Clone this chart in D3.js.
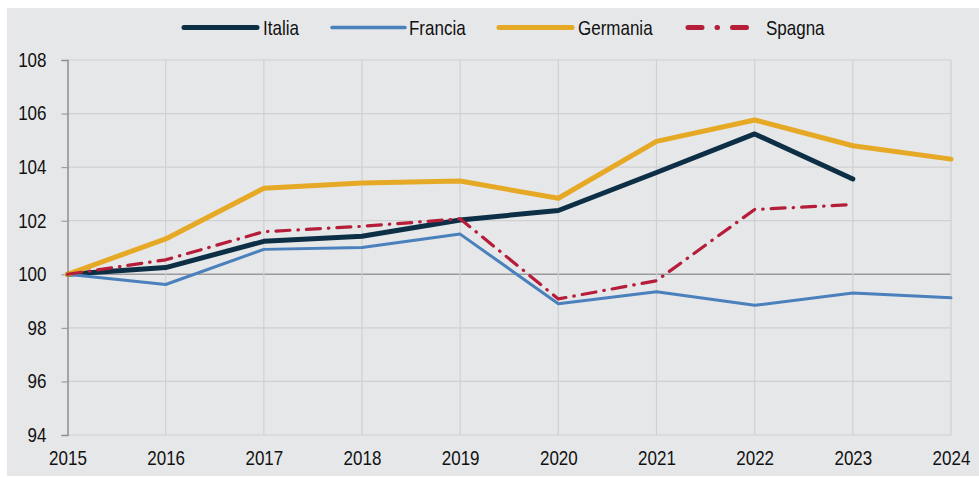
<!DOCTYPE html>
<html>
<head>
<meta charset="utf-8">
<script src="https://cdn.jsdelivr.net/npm/d3@7"></script>
<style>
  body { margin: 0; background: #fff; }
  text { font-family: "Liberation Sans Narrow", "Arial Narrow", "Liberation Sans", Arial, sans-serif; fill: #111; }
</style>
</head>
<body>
<div id="chart"></div>
<script>
const years = [2015, 2016, 2017, 2018, 2019, 2020, 2021, 2022, 2023, 2024];
const italia   = [100, 100.25, 101.23, 101.42, 102.03, 102.38, 103.8, 105.24, 103.56];
const francia  = [100, 99.62, 100.93, 101.0, 101.5, 98.9, 99.35, 98.84, 99.3, 99.12];
const germania = [100, 101.32, 103.21, 103.41, 103.48, 102.84, 104.96, 105.76, 104.8, 104.3];
const spagna   = [100, 100.54, 101.59, 101.79, 102.07, 99.08, 99.76, 102.42, 102.6];
const yTicks = [94, 96, 98, 100, 102, 104, 106, 108];

const series = [
  {name: "Italia", values: italia, color: "#0c2f45", width: 5, dash: null},
  {name: "Francia", values: francia, color: "#4a80bb", width: 3, dash: null},
  {name: "Germania", values: germania, color: "#e6a925", width: 5, dash: null},
  {name: "Spagna", values: spagna, color: "#b51d39", width: 3.2, dash: "14,8,0.5,8"}
];

const width = 979, height = 477;
const margin = {top: 60, right: 28, bottom: 42, left: 67.5};

// the reference uses a narrow face; squeeze the regular one if narrow is missing
const squeeze = (sel, origin) => sel
  .style("font-size", "20px")
  .attr("font-family", null)
  .attr("fill", "#111")
  .style("transform-box", "fill-box")
  .style("transform-origin", origin)
  .style("transform", "scaleX(0.85)");

const svg = d3.select("#chart").append("svg")
  .attr("width", width).attr("height", height);

svg.append("rect")
  .attr("x", 7).attr("y", 8)
  .attr("width", width - 7).attr("height", height - 9)
  .attr("fill", "#e6e7e9");

const x = d3.scaleLinear()
  .domain([2015, 2024])
  .range([margin.left, width - margin.right]);

const y = d3.scaleLinear()
  .domain([94, 108])
  .range([height - margin.bottom, margin.top]);

// grid
const grid = svg.append("g");
grid.selectAll(".gy")
  .data(yTicks)
  .join("line")
    .attr("x1", x(2015)).attr("x2", x(2024))
    .attr("y1", d => y(d)).attr("y2", d => y(d))
    .attr("stroke", d => d === 100 ? "#9a9a9c" : "#cfd0d2")
    .attr("stroke-width", d => d === 100 ? 1.5 : 1.2);
grid.selectAll(".gx")
  .data(years.slice(1))
  .join("line")
    .attr("x1", d => x(d)).attr("x2", d => x(d))
    .attr("y1", y(94)).attr("y2", y(108))
    .attr("stroke", "#cfd0d2")
    .attr("stroke-width", 1.2);

// y axis
const yAxis = svg.append("g")
  .attr("transform", `translate(${x(2015)},0)`)
  .call(d3.axisLeft(y).tickValues(yTicks).tickSize(6).tickPadding(15));
yAxis.select(".domain").attr("stroke", "#8f8f91").attr("stroke-width", 1.5);
yAxis.selectAll(".tick line").attr("stroke", "#8f8f91").attr("stroke-width", 1);
yAxis.selectAll("text").call(squeeze, "right center");

// x axis labels
const xAxis = svg.append("g")
  .attr("transform", `translate(0,${y(94)})`)
  .call(d3.axisBottom(x).tickValues(years).tickFormat(d3.format("d")).tickSize(0).tickPadding(16));
xAxis.select(".domain").remove();
xAxis.selectAll("text").call(squeeze, "center center");

// lines
const line = d3.line()
  .x((d, i) => x(years[i]))
  .y(d => y(d));

svg.append("g")
  .selectAll("path")
  .data(series)
  .join("path")
    .attr("d", d => line(d.values))
    .attr("fill", "none")
    .attr("stroke", d => d.color)
    .attr("stroke-width", d => d.width)
    .attr("stroke-linecap", "round")
    .attr("stroke-linejoin", "round")
    .attr("stroke-dasharray", d => d.dash);

// legend
const legendX = [184, 332, 499, 688];
const legend = svg.append("g")
  .selectAll("g")
  .data(series)
  .join("g")
    .attr("transform", (d, i) => `translate(${legendX[i]},27.5)`);
legend.append("line")
  .attr("x1", 0).attr("x2", 73)
  .attr("y1", 0).attr("y2", 0)
  .attr("stroke", d => d.color)
  .attr("stroke-width", d => d.width === 3 ? 3.5 : 5)
  .attr("stroke-linecap", "round")
  .attr("stroke-dasharray", d => d.dash ? "14,15,0.5,15" : null);
legend.append("text")
  .attr("x", (d, i) => [79, 77, 79, 78][i])
  .attr("y", 0)
  .attr("dy", "0.35em")
  .text(d => d.name)
  .call(squeeze, "left center");
</script>
</body>
</html>
